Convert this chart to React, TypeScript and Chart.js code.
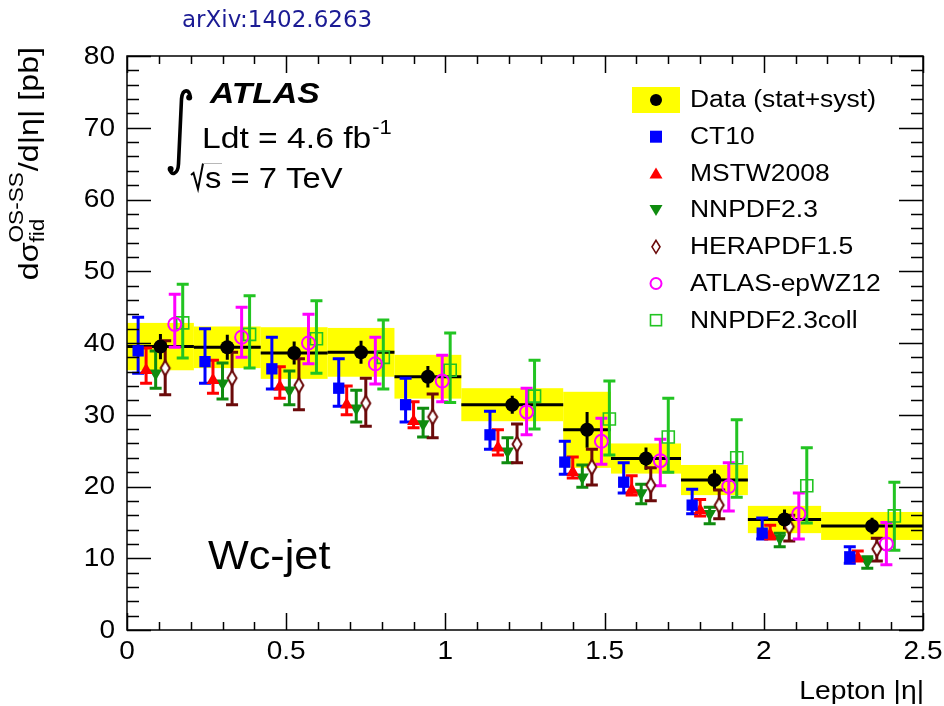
import React, { useEffect, useRef } from "react";
import { Chart, registerables } from "chart.js";

Chart.register(...registerables);

// Lepton |eta| bin edges
const binEdges = [0, 0.21, 0.42, 0.63, 0.84, 1.05, 1.37, 1.52, 1.74, 1.95, 2.18, 2.5];

// Measured W+c-jet (OS-SS) cross section per bin [pb]
const dataValues = [39.5, 39.4, 38.6, 38.7, 35.3, 31.4, 27.9, 23.9, 20.9, 15.4, 14.5];
const dataTotalErr = [3.3, 2.9, 3.6, 3.4, 3.05, 2.3, 5.3, 2.1, 2.1, 1.9, 1.95];
const dataStatErr = [1.75, 1.75, 1.6, 1.6, 1.5, 1.25, 2.5, 1.55, 1.45, 1.4, 1.15];

// Theory predictions with different PDF sets
const ct10Values = [38.9, 37.4, 36.4, 33.7, 31.4, 27.2, 23.4, 20.6, 17.4, 13.5, 10.2];
const ct10Up = [4.7, 4.6, 4.4, 4.1, 3.7, 3.3, 2.9, 2.7, 2.2, 2.1, 1.4];
const ct10Down = [3.1, 3.0, 2.8, 2.5, 2.4, 2.0, 1.7, 1.5, 1.2, 0.8, 0.9];

const mstwValues = [36.2, 34.8, 33.9, 31.4, 29.1, 25.4, 22.0, 19.5, 16.7, 13.3, 10.1];
const mstwUp = [3.1, 2.8, 2.8, 2.6, 2.7, 2.5, 2.1, 2.0, 1.5, 1.3, 0.9];
const mstwDown = [1.8, 1.8, 1.6, 1.4, 0.9, 1.0, 0.8, 0.7, 0.8, 0.6, 0.5];

const nnpdfValues = [35.8, 34.4, 33.4, 30.9, 28.7, 24.9, 21.3, 19.1, 16.2, 12.8, 9.5];
const nnpdfUp = [3.1, 2.8, 2.7, 2.5, 2.2, 1.9, 1.7, 1.2, 0.9, 0.7, 0.7];
const nnpdfDown = [2.1, 2.2, 2.0, 1.9, 1.8, 1.6, 1.4, 1.5, 1.4, 1.2, 0.9];

const heraValues = [36.5, 35.1, 34.1, 31.6, 29.7, 25.9, 22.7, 20.2, 17.4, 14.4, 11.3];
const heraUp = [3.8, 3.6, 3.7, 3.5, 3.2, 2.8, 2.5, 2.4, 2.1, 1.6, 1.5];
const heraDown = [3.7, 3.7, 3.4, 3.2, 2.9, 2.6, 2.5, 2.2, 1.9, 2.0, 1.7];

const epwzValues = [42.6, 40.8, 40.0, 37.1, 34.7, 30.4, 26.3, 23.6, 20.0, 16.2, 12.0];
const epwzUp = [4.2, 4.2, 4.0, 3.7, 3.6, 3.3, 3.2, 3.0, 3.3, 2.9, 3.0];
const epwzDown = [3.2, 2.8, 2.9, 2.8, 2.9, 3.2, 3.2, 3.5, 3.4, 3.5, 2.9];

const collValues = [42.8, 41.2, 40.6, 38.0, 36.2, 32.6, 29.4, 26.9, 24.0, 20.1, 15.9];
const collUp = [5.4, 5.4, 5.3, 5.2, 5.2, 5.0, 5.3, 5.4, 5.3, 5.3, 4.7];
const collDown = [4.9, 4.7, 4.8, 4.4, 4.5, 4.6, 5.0, 4.9, 5.5, 5.2, 4.8];

const seriesLabels = ["CT10", "MSTW2008", "NNPDF2.3", "HERAPDF1.5", "ATLAS-epWZ12", "NNPDF2.3coll"];
const dataLabel = "Data (stat+syst)";

const xTickLabels = ["0", "0.5", "1", "1.5", "2", "2.5"];
const yTickLabels = ["0", "10", "20", "30", "40", "50", "60", "70", "80"];

// ---- styling ----
const FONT = '"Liberation Sans", Arial, Helvetica, sans-serif';
const SX = 1.13; // horizontal text widening
const YELLOW = "#ffff00";

type MarkerKind = "square" | "triUp" | "triDown" | "diamond" | "openCircle" | "openSquare";

interface SeriesDef {
  label: string;
  values: number[];
  up: number[];
  down: number[];
  color: string;
  marker: MarkerKind;
  shift: number; // horizontal displacement inside the bin (eta units)
}

const seriesDefs: SeriesDef[] = [
  { label: seriesLabels[0], values: ct10Values, up: ct10Up, down: ct10Down, color: "#0000ff", marker: "square", shift: -0.07 },
  { label: seriesLabels[1], values: mstwValues, up: mstwUp, down: mstwDown, color: "#ff0000", marker: "triUp", shift: -0.045 },
  { label: seriesLabels[2], values: nnpdfValues, up: nnpdfUp, down: nnpdfDown, color: "#0f8c0f", marker: "triDown", shift: -0.015 },
  { label: seriesLabels[3], values: heraValues, up: heraUp, down: heraDown, color: "#6b0a0a", marker: "diamond", shift: 0.015 },
  { label: seriesLabels[4], values: epwzValues, up: epwzUp, down: epwzDown, color: "#ff00ff", marker: "openCircle", shift: 0.045 },
  { label: seriesLabels[5], values: collValues, up: collUp, down: collDown, color: "#22c422", marker: "openSquare", shift: 0.07 },
];

const binCenters = binEdges.slice(0, -1).map((e, i) => (e + binEdges[i + 1]) / 2);

function drawText(
  ctx: CanvasRenderingContext2D,
  s: string,
  x: number,
  y: number,
  size: number,
  o: { align?: CanvasTextAlign; baseline?: CanvasTextBaseline; weight?: string; style?: string; sx?: number; family?: string; color?: string } = {}
) {
  ctx.save();
  ctx.translate(x, y);
  ctx.scale(o.sx ?? SX, 1);
  ctx.font = `${o.style ?? "normal"} ${o.weight ?? "normal"} ${size}px ${o.family ?? FONT}`;
  ctx.fillStyle = o.color ?? "#000";
  ctx.textAlign = o.align ?? "left";
  ctx.textBaseline = o.baseline ?? "alphabetic";
  ctx.fillText(s, 0, 0);
  ctx.restore();
}

function textWidth(ctx: CanvasRenderingContext2D, s: string, size: number, sx = SX, weight = "normal", style = "normal") {
  ctx.save();
  ctx.font = `${style} ${weight} ${size}px ${FONT}`;
  const w = ctx.measureText(s).width * sx;
  ctx.restore();
  return w;
}

function drawMarker(ctx: CanvasRenderingContext2D, kind: MarkerKind | "dot", x: number, y: number, color: string) {
  ctx.save();
  ctx.fillStyle = color;
  ctx.strokeStyle = color;
  ctx.lineWidth = 2;
  ctx.beginPath();
  switch (kind) {
    case "dot":
      ctx.arc(x, y, 6, 0, Math.PI * 2);
      ctx.fill();
      break;
    case "square":
      ctx.fillRect(x - 6, y - 6, 12, 12);
      break;
    case "triUp":
      ctx.moveTo(x, y - 6);
      ctx.lineTo(x + 6.5, y + 5);
      ctx.lineTo(x - 6.5, y + 5);
      ctx.closePath();
      ctx.fill();
      break;
    case "triDown":
      ctx.moveTo(x, y + 6);
      ctx.lineTo(x + 6.5, y - 5);
      ctx.lineTo(x - 6.5, y - 5);
      ctx.closePath();
      ctx.fill();
      break;
    case "diamond":
      ctx.lineWidth = 1.6;
      ctx.moveTo(x, y - 6.5);
      ctx.lineTo(x + 4, y);
      ctx.lineTo(x, y + 6.5);
      ctx.lineTo(x - 4, y);
      ctx.closePath();
      ctx.stroke();
      break;
    case "openCircle":
      ctx.arc(x, y, 5.5, 0, Math.PI * 2);
      ctx.stroke();
      break;
    case "openSquare":
      ctx.lineWidth = 1.6;
      ctx.strokeRect(x - 5.5, y - 5.5, 11, 11);
      break;
  }
  ctx.restore();
}

function makeDiamondImage(color: string): HTMLCanvasElement {
  const c = document.createElement("canvas");
  c.width = 14;
  c.height = 18;
  const g = c.getContext("2d")!;
  g.strokeStyle = color;
  g.lineWidth = 2;
  g.fillStyle = "#ffffff";
  g.beginPath();
  g.moveTo(7, 1.5);
  g.lineTo(11.5, 9);
  g.lineTo(7, 16.5);
  g.lineTo(2.5, 9);
  g.closePath();
  g.fill();
  g.stroke();
  return c;
}

const decorPlugin = {
  id: "wcDecor",
  beforeDraw(chart: any) {
    const { ctx, width, height } = chart;
    ctx.save();
    ctx.fillStyle = "#ffffff";
    ctx.fillRect(0, 0, width, height);
    ctx.restore();
  },
  beforeDatasetsDraw(chart: any) {
    const { ctx } = chart;
    const xs = chart.scales.x;
    const ys = chart.scales.y;
    ctx.save();
    // total-uncertainty bands
    ctx.fillStyle = YELLOW;
    dataValues.forEach((v, i) => {
      const x0 = xs.getPixelForValue(binEdges[i]);
      const x1 = xs.getPixelForValue(binEdges[i + 1]);
      const yt = ys.getPixelForValue(v + dataTotalErr[i]);
      const yb = ys.getPixelForValue(v - dataTotalErr[i]);
      ctx.fillRect(x0, yt, x1 - x0, yb - yt);
    });
    // data: bin-wide line and statistical bar
    ctx.strokeStyle = "#000";
    ctx.lineWidth = 3;
    dataValues.forEach((v, i) => {
      const x0 = xs.getPixelForValue(binEdges[i]);
      const x1 = xs.getPixelForValue(binEdges[i + 1]);
      const yv = ys.getPixelForValue(v);
      ctx.beginPath();
      ctx.moveTo(x0, yv);
      ctx.lineTo(x1, yv);
      const xc = xs.getPixelForValue(binCenters[i]);
      ctx.moveTo(xc, ys.getPixelForValue(v + dataStatErr[i]));
      ctx.lineTo(xc, ys.getPixelForValue(v - dataStatErr[i]));
      ctx.stroke();
    });
    // theory error bars
    ctx.lineWidth = 3;
    seriesDefs.forEach((s) => {
      ctx.strokeStyle = s.color;
      s.values.forEach((v, i) => {
        const px = xs.getPixelForValue(binCenters[i] + s.shift);
        const yt = ys.getPixelForValue(v + s.up[i]);
        const yb = ys.getPixelForValue(v - s.down[i]);
        ctx.beginPath();
        ctx.moveTo(px, yt);
        ctx.lineTo(px, yb);
        ctx.moveTo(px - 6, yt);
        ctx.lineTo(px + 6, yt);
        ctx.moveTo(px - 6, yb);
        ctx.lineTo(px + 6, yb);
        ctx.stroke();
      });
    });
    ctx.restore();
  },
  afterDraw(chart: any) {
    const { ctx, chartArea } = chart;
    const xs = chart.scales.x;
    const ys = chart.scales.y;
    const { left: L, right: R, top: T, bottom: B } = chartArea;
    ctx.save();

    // frame
    ctx.strokeStyle = "#000";
    ctx.lineWidth = 1.5;
    ctx.strokeRect(L, T, R - L, B - T);

    // y ticks, both sides
    ctx.beginPath();
    for (let k = 0; k <= 40; k++) {
      const v = k * 2;
      const py = Math.round(ys.getPixelForValue(v)) + 0.5;
      const len = k % 5 === 0 ? 24 : 12;
      ctx.moveTo(L, py);
      ctx.lineTo(L + len, py);
      ctx.moveTo(R, py);
      ctx.lineTo(R - len, py);
    }
    // x ticks, bottom and top
    for (let k = 0; k <= 25; k++) {
      const v = k / 10;
      const px = Math.round(xs.getPixelForValue(v)) + 0.5;
      const len = k % 5 === 0 ? 17 : 8;
      ctx.moveTo(px, B);
      ctx.lineTo(px, B - len);
      ctx.moveTo(px, T);
      ctx.lineTo(px, T + len);
    }
    ctx.stroke();

    // tick labels
    yTickLabels.forEach((t) => {
      drawText(ctx, t, L - 12, ys.getPixelForValue(Number(t)) + 1, 25, { align: "right", baseline: "middle", sx: 1.12 });
    });
    xTickLabels.forEach((t) => {
      drawText(ctx, t, xs.getPixelForValue(Number(t)), B + 10, 25, { align: "center", baseline: "top", sx: 1.12 });
    });

    // x title
    drawText(ctx, "Lepton |\u03b7|", R + 1, 699, 25, { align: "right" });

    // y title (rotated)
    {
      const mainSize = 28.5;
      const scriptSize = 20;
      const p1 = "d\u03c3";
      const sup = "OS-SS";
      const sub = "fid";
      const p3 = "/d|\u03b7| [pb]";
      const w1 = textWidth(ctx, p1, mainSize);
      const wSup = textWidth(ctx, sup, scriptSize);
      const wSub = textWidth(ctx, sub, scriptSize);
      const w3 = textWidth(ctx, p3, mainSize);
      const total = w1 + Math.max(wSup, wSub) + 1 + w3;
      const endY = 47;
      ctx.save();
      ctx.translate(38, endY + total);
      ctx.rotate(-Math.PI / 2);
      drawText(ctx, p1, 0, 0, mainSize);
      drawText(ctx, sup, w1, -15, scriptSize);
      drawText(ctx, sub, w1, 6, scriptSize);
      drawText(ctx, p3, w1 + Math.max(wSup, wSub) + 1, 0, mainSize);
      ctx.restore();
    }

    // arXiv reference
    drawText(ctx, "arXiv:1402.6263", 182, 27, 23, { family: '"DejaVu Sans", sans-serif', sx: 1, color: "#1b1b94" });

    // ATLAS block
    drawText(ctx, "ATLAS", 210, 103, 29, { weight: "bold", style: "italic", sx: 1.16 });
    const ldt = "Ldt = 4.6 fb";
    drawText(ctx, ldt, 202, 148, 29, { sx: 1.16 });
    const wLdt = textWidth(ctx, ldt, 29, 1.16);
    drawText(ctx, "-1", 202 + wLdt + 1, 134, 20, { sx: 1.1 });
    drawText(ctx, "s = 7 TeV", 205, 188, 29, { sx: 1.13 });

    // integral sign
    ctx.strokeStyle = "#000";
    ctx.fillStyle = "#000";
    ctx.lineWidth = 3.6;
    ctx.lineCap = "round";
    ctx.beginPath();
    ctx.moveTo(190, 97);
    ctx.bezierCurveTo(190, 89, 182.5, 88, 181.5, 99);
    ctx.lineTo(178.5, 164);
    ctx.bezierCurveTo(178, 175, 170.5, 176, 170, 169);
    ctx.stroke();
    ctx.beginPath();
    ctx.arc(189.2, 97.5, 3, 0, Math.PI * 2);
    ctx.fill();
    ctx.beginPath();
    ctx.arc(170.6, 169, 3, 0, Math.PI * 2);
    ctx.fill();

    // square-root sign
    ctx.lineWidth = 2;
    ctx.lineCap = "butt";
    ctx.beginPath();
    ctx.moveTo(191, 175);
    ctx.lineTo(193.5, 173);
    ctx.lineTo(198, 189);
    ctx.lineTo(203, 163.5);
    ctx.stroke();
    ctx.strokeStyle = "#b8b8b8";
    ctx.lineWidth = 1;
    ctx.beginPath();
    ctx.moveTo(203, 163.5);
    ctx.lineTo(222, 163.5);
    ctx.stroke();

    // channel label
    drawText(ctx, "Wc-jet", 208, 569, 40, { sx: 1.08 });

    // legend
    const rowY = (i: number) => 100 + i * 36.7;
    ctx.fillStyle = YELLOW;
    ctx.fillRect(632, 87, 48, 26);
    drawMarker(ctx, "dot", 656, rowY(0), "#000");
    drawText(ctx, dataLabel, 690, rowY(0) + 1, 23, { baseline: "middle", sx: 1.15 });
    seriesDefs.forEach((s, i) => {
      drawMarker(ctx, s.marker, 656, rowY(i + 1), s.color);
      drawText(ctx, s.label, 690, rowY(i + 1) + 1, 23, { baseline: "middle", sx: 1.15 });
    });

    ctx.restore();
  },
};

export default function App() {
  const canvasRef = useRef<HTMLCanvasElement | null>(null);

  useEffect(() => {
    if (!canvasRef.current) return;
    const diamond = makeDiamondImage("#6b0a0a");

    const pointStyleFor = (m: MarkerKind) => {
      switch (m) {
        case "square":
          return { pointStyle: "rect", pointRadius: 8, pointBorderWidth: 0 };
        case "triUp":
          return { pointStyle: "triangle", pointRadius: 7.5, pointBorderWidth: 0 };
        case "triDown":
          return { pointStyle: "triangle", pointRadius: 7.5, pointBorderWidth: 0, pointRotation: 180 };
        case "diamond":
          return { pointStyle: diamond, pointRadius: 8 };
        case "openCircle":
          return { pointStyle: "circle", pointRadius: 6.5, pointBorderWidth: 2 };
        case "openSquare":
          return { pointStyle: "rect", pointRadius: 8.5, pointBorderWidth: 1.6 };
      }
    };

    const datasets: any[] = [
      {
        label: dataLabel,
        data: dataValues.map((v, i) => ({ x: binCenters[i], y: v })),
        pointStyle: "circle",
        pointRadius: 7,
        pointBackgroundColor: "#000",
        pointBorderColor: "#000",
        pointBorderWidth: 0,
        showLine: false,
      },
      ...seriesDefs.map((s) => {
        const open = s.marker === "openCircle" || s.marker === "openSquare";
        return {
          label: s.label,
          data: s.values.map((v, i) => ({ x: binCenters[i] + s.shift, y: v })),
          pointBackgroundColor: open ? "rgba(0,0,0,0)" : s.color,
          pointBorderColor: s.color,
          showLine: false,
          ...pointStyleFor(s.marker),
        };
      }),
    ];

    const chart = new Chart(canvasRef.current, {
      type: "scatter",
      data: { datasets },
      options: {
        responsive: false,
        animation: false,
        devicePixelRatio: 1,
        events: [],
        layout: { padding: { left: 127, right: 21, top: 56, bottom: 76 } },
        plugins: { legend: { display: false }, tooltip: { enabled: false } },
        scales: {
          x: { type: "linear", min: 0, max: 2.5, display: false },
          y: { type: "linear", min: 0, max: 80, display: false },
        },
      },
      plugins: [decorPlugin],
    } as any);

    return () => chart.destroy();
  }, []);

  return (
    <div style={{ position: "fixed", left: 0, top: 0, width: 944, height: 706, background: "#fff" }}>
      <canvas ref={canvasRef} width={944} height={706} />
    </div>
  );
}
